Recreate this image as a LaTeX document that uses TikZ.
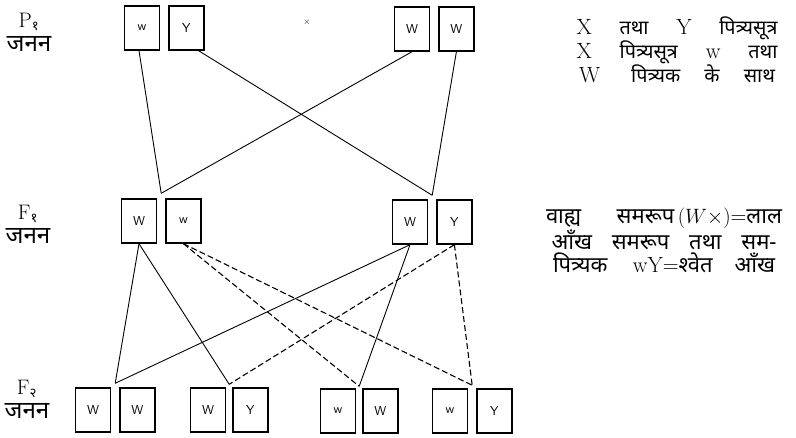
\documentclass[tikz,border=0pt]{standalone}
\usepackage{fontspec}
\newfontfamily\devfont[Script=Devanagari,Scale=0.9]{Noto Sans}
\newfontfamily\devnote[Script=Devanagari,Scale=1.0]{Noto Sans}
\newfontfamily\devlabel[Script=Devanagari,Scale=1.15]{Noto Sans}
\usetikzlibrary{positioning}

\begin{document}
\begin{tikzpicture}[x=1pt,y=-1pt,
    gbox/.style={draw,line width=1.4pt,minimum width=35pt,minimum height=44pt,inner sep=0pt,font=\sffamily\fontsize{13}{15}\selectfont},
    solidline/.style={line width=0.9pt},
    dashline/.style={line width=1.1pt,dash pattern=on 6pt off 3pt},
    genlabel/.style={align=center,font=\fontsize{21}{24}\selectfont},
    note/.style={align=center,font=\fontsize{22}{23}\selectfont},
    node distance=8pt
  ]
    \useasboundingbox (0,0) rectangle (796,438);
    % generation labels
    \node[genlabel] (lp) at (29,32) {P\textsubscript{\devfont १}\\{\devlabel जनन}};
    \node[genlabel] (lf1) at (28,224) {F\textsubscript{\devfont १}\\{\devlabel जनन}};
    \node[genlabel] (lf2) at (27,399) {F\textsubscript{\devfont २}\\{\devlabel जनन}};
    % P1
    \node[gbox] (p1a) at (142,28) {w};
    \node[gbox,right=of p1a] (p1b) {Y};
    \node (cross) at (307,22) {\small$\times$};
    \node[gbox] (p1c) at (412,29) {W};
    \node[gbox,right=of p1c] (p1d) {W};
    % F1
    \node[gbox] (f1a) at (139,221) {W};
    \node[gbox,right=of f1a] (f1b) {w};
    \node[gbox] (f1c) at (410,222) {W};
    \node[gbox,right=of f1c] (f1d) {Y};
    % F2
    \node[gbox] (f2a) at (93,410) {W};
    \node[gbox,right=of f2a] (f2b) {W};
    \node[gbox] (f2c) at (208,410) {W};
    \node[gbox,right=6pt of f2c] (f2d) {Y};
    \node[gbox] (f2e) at (338,411) {w};
    \node[gbox,right=6pt of f2e] (f2f) {W};
    \node[gbox] (f2g) at (450,411) {w};
    \node[gbox,right=of f2g] (f2h) {Y};
    % junctions
    \path (f1a.north east) -- (f1b.north west) coordinate[pos=.5,yshift=5pt] (jf1l);
    \path (f1c.north east) -- (f1d.north west) coordinate[pos=.5,yshift=4pt] (jf1r);
    \path (f2a.north east) -- (f2b.north west) coordinate[pos=.5,yshift=4pt] (jf2a);
    \path (f2c.north east) -- (f2d.north west) coordinate[pos=.5,yshift=3pt] (jf2b);
    \path (f2e.north east) -- (f2f.north west) coordinate[pos=.5,yshift=2pt] (jf2c);
    \path (f2g.north east) -- (f2h.north west) coordinate[pos=.5,yshift=3pt] (jf2d);
    % P1 x P1
    \draw[solidline] ([xshift=-3pt]p1a.south) -- (jf1l);
    \draw[solidline] ([xshift=-6pt]p1b.south east) -- (jf1r);
    \draw[solidline] (p1c.south) -- (jf1l);
    \draw[solidline] (p1d.south) -- (jf1r);
    % F1 x F1
    \draw[solidline] (f1a.south) -- (jf2a);
    \draw[solidline] (f1a.south) -- (jf2b);
    \draw[dashline] (f1b.south) -- (jf2c);
    \draw[dashline] (f1b.south) -- (jf2d);
    \draw[solidline] (f1c.south) -- (jf2a);
    \draw[solidline] (f1c.south) -- (jf2c);
    \draw[dashline] (f1d.south) -- (jf2b);
    \draw[dashline] (f1d.south) -- (jf2d);
    % notes
    \node[note] (n1) at (677,50) {%
      \makebox[201pt][s]{X {\devfont तथा} Y {\devfont पित्र्यसूत्र}}\\
      \makebox[201pt][s]{X {\devfont पित्र्यसूत्र} w {\devfont तथा}}\\
      \makebox[196pt][s]{W {\devfont पित्र्यक के साथ}}};
    \node[note] (n2) at (664,240) {%
      \makebox[236pt][s]{{\devnote वाह्य समरूप}$\,(W\times)$={\devnote लाल}}\\
      \makebox[225pt][s]{\devnote आँख समरूप तथा सम-}\\
      \makebox[222pt][s]{{\devnote पित्र्यक} wY={\devnote श्वेत आँख}}};
  \end{tikzpicture}
\end{document}
